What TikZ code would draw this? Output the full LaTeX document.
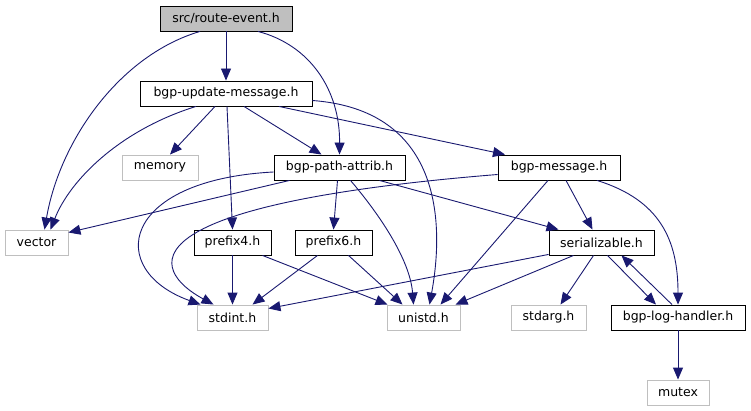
\documentclass[tikz,border=0pt]{standalone}
\usepackage{fontspec}
\setmainfont{DejaVu Sans}
\usepackage{xcolor}
\usetikzlibrary{arrows.meta}
\definecolor{edgeblue}{HTML}{191970}
\definecolor{extgray}{HTML}{BFBFBF}

\begin{document}
\begin{tikzpicture}[x=1pt, y=-1pt, >={Triangle[length=12pt,width=10pt]},
    box/.style={draw=black, line width=0.9pt, minimum height=25pt, inner sep=0pt,
                font=\fontsize{12.5}{15}\selectfont},
    extbox/.style={box, draw=extgray},
    dep/.style={->, color=edgeblue, line width=0.9pt}]
    \useasboundingbox (0,0) rectangle (751,411);

    % 1. Files
    \node[box, fill=extgray, minimum width=132pt] (re) at (226,18.5) {src/route-event.h};
    \node[box, minimum width=172pt] (bum) at (226,93.5) {bgp-update-message.h};
    \node[extbox, minimum width=76pt] (mem) at (160,167.5) {memory};
    \node[box, minimum width=131pt] (bpa) at (339.5,167.5) {bgp-path-attrib.h};
    \node[box, minimum width=122pt] (bm) at (559,167.5) {bgp-message.h};
    \node[extbox, minimum width=63pt] (vec) at (36.5,242.5) {vector};
    \node[box, minimum width=77pt] (pf4) at (232.5,242.5) {prefix4.h};
    \node[box, minimum width=77pt] (pf6) at (333.5,242.5) {prefix6.h};
    \node[box, minimum width=105pt] (ser) at (601.5,242.5) {serializable.h};
    \node[extbox, minimum width=71pt] (sint) at (232.5,317.5) {stdint.h};
    \node[extbox, minimum width=73pt] (unis) at (423.5,317.5) {unistd.h};
    \node[extbox, minimum width=75pt] (sarg) at (548.5,317.5) {stdarg.h};
    \node[box, minimum width=134pt] (blh) at (678,317.5) {bgp-log-handler.h};
    \node[extbox, minimum width=62pt] (mtx) at (678,392.5) {mutex};

    % 2. route-event.h
    \draw[dep] ([xshift=-26pt]re.south) .. controls (120,55) and (60,140) .. ([xshift=8pt]vec.north);
    \draw[dep] (re) -- (bum);
    \draw[dep] ([xshift=32pt]re.south) .. controls (310,45) and (340,90) .. (bpa.north);

    % 3. bgp-update-message.h
    \draw[dep] ([xshift=-30pt]bum.south) .. controls (120,130) and (70,180) .. ([xshift=14pt]vec.north);
    \draw[dep] ([xshift=-11pt]bum.south) -- ([xshift=10pt]mem.north);
    \draw[dep] ([xshift=1pt]bum.south) -- (pf4.north);
    \draw[dep] ([xshift=18pt]bum.south) -- ([xshift=-18pt]bpa.north);
    \draw[dep] ([xshift=53pt]bum.south) -- ([xshift=-54pt]bm.north);
    \draw[dep] ([yshift=-7pt]bum.east) .. controls (440,110) and (445,220) .. ([xshift=6pt]unis.north);

    % 4. bgp-path-attrib.h
    \draw[dep] ([xshift=-50pt]bpa.south) -- ([yshift=10pt]vec.east);
    \draw[dep] ([yshift=-4.5pt]bpa.west) .. controls (120,180) and (105,270) .. ([xshift=-32pt]sint.north);
    \draw[dep] ([xshift=-2pt]bpa.south) -- (pf6.north);
    \draw[dep] ([xshift=11pt]bpa.south) .. controls (380,215) and (410,260) .. ([xshift=-10pt]unis.north);
    \draw[dep] ([xshift=40pt]bpa.south) -- ([xshift=-43pt]ser.north);

    % 5. bgp-message.h
    \draw[dep] ([yshift=-7pt]bm.west) .. controls (120,205) and (150,270) .. ([xshift=-19pt]sint.north);
    \draw[dep] ([xshift=-11pt]bm.south) -- ([xshift=17pt]unis.north);
    \draw[dep] ([xshift=7pt]bm.south) -- ([xshift=-9pt]ser.north);
    \draw[dep] ([xshift=38pt]bm.south) .. controls (660,200) and (678,240) .. (blh.north);

    % 6. prefix4.h, prefix6.h
    \draw[dep] (pf4) -- (sint);
    \draw[dep] ([xshift=30pt]pf4.south) -- ([xshift=-36pt]unis.north);
    \draw[dep] ([xshift=-16pt]pf6.south) -- ([xshift=20pt]sint.north);
    \draw[dep] ([xshift=15pt]pf6.south) -- ([xshift=-21pt]unis.north);

    % 7. serializable.h, bgp-log-handler.h
    \draw[dep] ([yshift=1pt]ser.south west) -- ([yshift=9pt]sint.east);
    \draw[dep] ([xshift=-28pt]ser.south) -- ([xshift=32pt]unis.north);
    \draw[dep] ([xshift=-8pt]ser.south) -- ([xshift=12pt]sarg.north);
    \draw[dep] ([xshift=6pt]ser.south) -- ([xshift=-22pt]blh.north);
    \draw[dep] ([xshift=-6pt]blh.north) -- ([xshift=20pt]ser.south);
    \draw[dep] (blh) -- (mtx);
\end{tikzpicture}
\end{document}
